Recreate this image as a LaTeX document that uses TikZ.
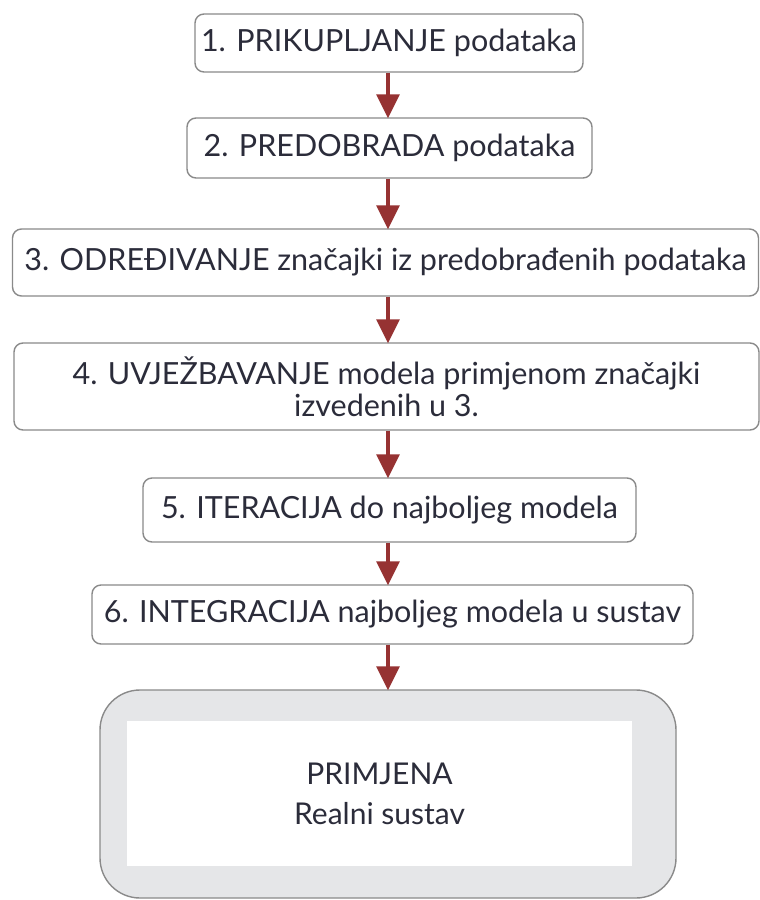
\documentclass[tikz,border=0pt]{standalone}
\usepackage{fontspec}
\setmainfont{Lato}
\usetikzlibrary{arrows.meta}
\definecolor{txt}{HTML}{2B2C3A}
\definecolor{arr}{HTML}{963232}
\definecolor{edge}{HTML}{8A8A8A}
\definecolor{biggray}{HTML}{E5E6E8}
\begin{document}
\begin{tikzpicture}[x=1pt,y=-1pt,
  stepbox/.style={draw=edge,line width=1.4pt,rounded corners=9pt,fill=white,
    inner sep=0pt,text=txt,font=\fontsize{30.5}{32}\selectfont,align=center},
  flow/.style={draw=arr,line width=3.2pt,-{Triangle[width=23pt,length=24pt]},arr,shorten >=-1pt}
]
\useasboundingbox (0,0) rectangle (760,900);
\fill[white] (0,0) rectangle (760,900);
\coordinate (axis) at (388,0);
\node[stepbox,minimum width=388pt,minimum height=58pt] (s1) at (389,43) {1. PRIKUPLJANJE podataka};
\node[stepbox,minimum width=405pt,minimum height=60pt] (s2) at (389.5,148) {2. PREDOBRADA podataka};
\node[stepbox,minimum width=746pt,minimum height=67pt] (s3) at (385.5,262.5) {3. ODREĐIVANJE značajki iz predobrađenih podataka};
\node[stepbox,minimum width=745pt,minimum height=87pt] (s4) at (386.5,386.5) {4. UVJEŽBAVANJE modela primjenom značajki\\izvedenih u 3.};
\node[stepbox,minimum width=493pt,minimum height=64pt] (s5) at (389.5,510) {5. ITERACIJA do najboljeg modela};
\node[stepbox,minimum width=601pt,minimum height=59pt] (s6) at (392.5,614.5) {6. INTEGRACIJA najboljeg modela u sustav};
\node[draw=edge,line width=1.4pt,rounded corners=40pt,fill=biggray,minimum width=576pt,minimum height=208pt,inner sep=0pt] (big) at (388,794) {};
\node[fill=white,minimum width=505pt,minimum height=145pt,inner sep=0pt,text=txt,font=\fontsize{30}{40}\selectfont,align=center] (inner) at (379.5,793.5) {PRIMJENA\\Realni sustav};
\draw[flow] (s1.south -| axis) -- (s2.north -| axis);
\draw[flow] (s2.south -| axis) -- (s3.north -| axis);
\draw[flow] (s3.south -| axis) -- (s4.north -| axis);
\draw[flow] (s4.south -| axis) -- (s5.north -| axis);
\draw[flow] (s5.south -| axis) -- (s6.north -| axis);
\draw[flow] (s6.south -| axis) -- (big.north -| axis);
\end{tikzpicture}
\end{document}
